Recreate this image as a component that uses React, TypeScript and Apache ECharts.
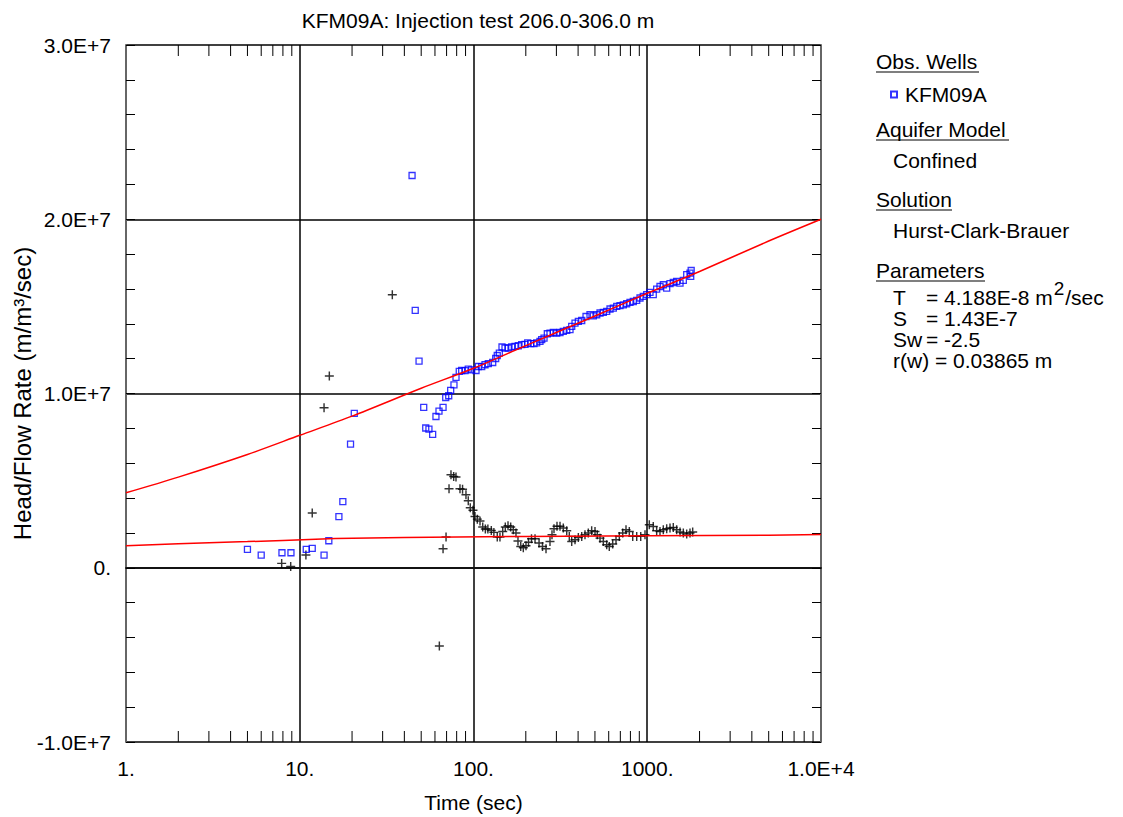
import React, { useEffect, useRef } from 'react';
import * as echarts from 'echarts';

const FONT = "'Liberation Sans', Arial, Helvetica, sans-serif";

// Tick labels
const xTickValues = [1, 10, 100, 1000, 10000];
const xTickLabels = ['1.', '10.', '100.', '1000.', '1.0E+4'];
const yTickValues = [-1e7, 0, 1e7, 2e7, 3e7];
const yTickLabels = ['-1.0E+7', '0.', '1.0E+7', '2.0E+7', '3.0E+7'];
const xDecades = [1, 10, 100, 1000];
const xMinorMult = [2, 3, 4, 5, 6, 7, 8, 9];

// Observed head/flow rate (blue squares)
const obsTime = [5.0, 6.0, 7.9, 8.9, 10.9, 11.8, 13.8, 14.7, 16.8, 17.7, 19.6, 20.6, 44.3, 46.2, 48.6, 51.7, 53.1, 55.4, 58.2, 60.8, 63.3, 66.8, 69.2, 72.0, 73.9, 77.2, 79.3, 82.8, 85.5, 89.4, 93.3, 97.6, 103.4, 106.6, 111.5, 116.5, 121.7, 129, 134.2, 137, 140.8, 145.9, 151.8, 158.6, 165.9, 173.3, 181.1, 189.4, 197.9, 205.1, 213.4, 222.9, 231.0, 241.3, 246.9, 254.6, 266, 275.6, 288, 301.2, 314.7, 328.7, 344, 359.3, 367.5, 383.9, 401.2, 419.6, 444.2, 468.3, 489.3, 511.9, 534.8, 558.7, 584.4, 610.5, 637.9, 667.3, 697, 728.3, 761.6, 795.6, 831.3, 869.6, 908.4, 949.1, 993, 1037, 1083, 1133, 1184, 1237, 1294, 1352, 1412, 1477, 1544, 1613, 1687, 1762, 1779, 1790];
const obsHead = [1.05e6, 0.73e6, 0.86e6, 0.86e6, 1.05e6, 1.11e6, 0.73e6, 1.55e6, 2.93e6, 3.79e6, 7.10e6, 8.86e6, 22.51e6, 14.77e6, 11.86e6, 9.20e6, 8.02e6, 7.96e6, 7.65e6, 8.68e6, 8.99e6, 9.20e6, 9.77e6, 9.87e6, 10.18e6, 10.50e6, 10.92e6, 11.27e6, 11.32e6, 11.31e6, 11.40e6, 11.36e6, 11.32e6, 11.55e6, 11.54e6, 11.65e6, 11.72e6, 11.78e6, 12.01e6, 12.18e6, 12.32e6, 12.67e6, 12.61e6, 12.61e6, 12.67e6, 12.70e6, 12.74e6, 12.80e6, 12.82e6, 12.90e6, 12.86e6, 12.86e6, 12.90e6, 12.99e6, 13.09e6, 13.18e6, 13.43e6, 13.47e6, 13.50e6, 13.47e6, 13.50e6, 13.56e6, 13.62e6, 13.66e6, 13.85e6, 14.04e6, 14.14e6, 14.19e6, 14.42e6, 14.52e6, 14.46e6, 14.52e6, 14.62e6, 14.65e6, 14.71e6, 14.85e6, 14.90e6, 15.00e6, 15.04e6, 15.09e6, 15.15e6, 15.23e6, 15.28e6, 15.34e6, 15.48e6, 15.57e6, 15.67e6, 15.80e6, 15.67e6, 15.99e6, 16.14e6, 16.24e6, 16.05e6, 16.30e6, 16.37e6, 16.43e6, 16.34e6, 16.49e6, 16.82e6, 16.91e6, 16.72e6, 17.06e6];

// Derivative (black crosses)
const derTime = [7.87, 8.87, 10.85, 11.8, 13.8, 14.8, 34.1, 63.6, 66.8, 69.5, 72.3, 74.2, 76.9, 79.3, 83.6, 86.5, 90.5, 93.3, 95.8, 99.3, 102, 105.2, 109, 113, 117, 121, 126.6, 131, 137, 142, 147.3, 152.4, 158, 163.7, 169.4, 175.6, 180.3, 187, 193.5, 200.5, 207.3, 215.7, 226, 238.4, 249.5, 261.4, 275.6, 283, 290.6, 302.4, 314.7, 328.7, 344, 355.9, 367.5, 383.9, 401.2, 419.6, 438.2, 457.9, 478.8, 500.4, 515.8, 534.8, 558.7, 584.4, 604.6, 632.6, 661, 690.6, 722.4, 754.6, 788.3, 824.9, 869.6, 917.1, 970.5, 1027.6, 1083, 1133, 1184, 1237, 1294, 1352, 1412, 1477, 1544, 1613, 1687, 1762, 1826];
const derValue = [0.25e6, 0.07e6, 0.73e6, 3.14e6, 9.18e6, 11.00e6, 15.67e6, -4.49e6, 1.09e6, 1.76e6, 4.53e6, 5.34e6, 5.24e6, 5.21e6, 4.53e6, 4.51e6, 4.19e6, 3.85e6, 3.44e6, 3.30e6, 2.94e6, 2.79e6, 2.68e6, 2.34e6, 2.22e6, 2.22e6, 2.14e6, 2.03e6, 1.76e6, 1.76e6, 2.08e6, 2.34e6, 2.41e6, 2.34e6, 2.18e6, 1.99e6, 1.53e6, 1.22e6, 1.15e6, 1.26e6, 1.46e6, 1.66e6, 1.66e6, 1.42e6, 1.22e6, 1.09e6, 1.51e6, 1.89e6, 2.24e6, 2.38e6, 2.38e6, 2.28e6, 2.12e6, 1.80e6, 1.51e6, 1.61e6, 1.74e6, 1.80e6, 1.89e6, 1.99e6, 2.12e6, 2.08e6, 1.89e6, 1.70e6, 1.51e6, 1.32e6, 1.22e6, 1.36e6, 1.61e6, 1.80e6, 1.99e6, 2.18e6, 2.08e6, 1.80e6, 1.80e6, 1.80e6, 1.89e6, 2.47e6, 2.37e6, 2.12e6, 2.08e6, 2.18e6, 2.24e6, 2.28e6, 2.31e6, 2.18e6, 2.05e6, 1.99e6, 1.93e6, 1.99e6, 2.05e6];

// Fitted type curve (upper red line)
const fitTime = [1, 2, 5, 10, 20, 50, 100, 200, 500, 1000, 2000, 5000, 10000];
const fitHead = [4.3e6, 5.2e6, 6.5e6, 7.6e6, 8.7e6, 10.3e6, 11.45e6, 12.75e6, 14.45e6, 15.75e6, 17.0e6, 18.75e6, 20.0e6];

// Fitted derivative (lower red line)
const fitDerTime = [1, 2, 5, 8, 16, 40, 200, 1000, 5000, 10000];
const fitDerValue = [1.26e6, 1.38e6, 1.5e6, 1.57e6, 1.68e6, 1.74e6, 1.8e6, 1.84e6, 1.87e6, 1.91e6];

const xMinorTicks: number[] = [];
xDecades.forEach((d) => xMinorMult.forEach((m) => xMinorTicks.push(d * m)));

const zip = (a: number[], b: number[]) => a.map((v, i) => [v, b[i]]);

const xLabel = (v: number) => {
  const idx = xTickValues.findIndex((t) => Math.abs(Math.log10(t) - Math.log10(v)) < 1e-6);
  return idx >= 0 ? xTickLabels[idx] : '';
};
const yLabel = (v: number) => {
  const idx = yTickValues.findIndex((t) => Math.abs(t - v) < 1);
  return idx >= 0 ? yTickLabels[idx] : '';
};

const FS = 21;
const txt = (text: string, x: number, y: number, extra: any = {}) => ({
  type: 'text',
  x,
  y,
  style: {
    text,
    fill: '#000',
    font: `${FS}px ${FONT}`,
    textVerticalAlign: 'middle',
    verticalAlign: 'middle',
    ...extra,
  },
});
const uline = (x1: number, x2: number, y: number) => ({
  type: 'line',
  shape: { x1, y1: y, x2, y2: y },
  style: { stroke: '#000', lineWidth: 1.2 },
});

const measure = (text: string, font: string) => {
  const ctx = document.createElement('canvas').getContext('2d');
  if (!ctx) return text.length * 10;
  ctx.font = font;
  return ctx.measureText(text).width;
};

const plusSymbol = 'path://M4.2,0h1.6v10h-1.6z M0,4.2h10v1.6h-10z';

export default function App() {
  const ref = useRef<HTMLDivElement>(null);
  useEffect(() => {
    const chart = echarts.init(ref.current!, null, { renderer: 'svg' });
    const axisFont = { fontSize: FS, fontFamily: FONT, color: '#000' };
    const tMain = '= 4.188E-8 m';
    const tX = 926;
    const supX = tX + measure(tMain, `${FS}px ${FONT}`) + 1;
    const supW = measure('2', `19px ${FONT}`);
    chart.setOption({
      animation: false,
      backgroundColor: '#fff',
      grid: { left: 126, top: 45, width: 695, height: 697, outerBoundsMode: 'none', containLabel: false },
      legend: {
        data: [{ name: 'KFM09A', icon: 'rect' }],
        left: 885,
        top: 79,
        itemWidth: 6,
        itemHeight: 6,
        itemGap: 4,
        textStyle: { ...axisFont, padding: [0, 0, 0, 3] },
        selectedMode: false,
      },
      xAxis: [
        {
          type: 'log',
          logBase: 10,
          min: 1,
          max: 10000,
          position: 'bottom',
          axisLine: { show: true, lineStyle: { color: '#111', width: 1.5 } },
          axisTick: { show: false },
          minorTick: { show: false },
          axisLabel: { formatter: xLabel, margin: 16, ...axisFont },
          splitLine: { show: true, lineStyle: { color: '#000', width: 1.5 } },
          name: 'Time (sec)',
          nameLocation: 'middle',
          nameGap: 50,
          nameMoveOverlap: false,
          nameTextStyle: { ...axisFont },
        },
        {
          type: 'log',
          logBase: 10,
          min: 1,
          max: 10000,
          position: 'top',
          axisLine: { show: true, lineStyle: { color: '#111', width: 1.5 } },
          axisTick: { show: false },
          axisLabel: { show: false },
          splitLine: { show: false },
        },
      ],
      yAxis: [
        {
          type: 'value',
          min: -1e7,
          max: 3e7,
          interval: 1e7,
          position: 'left',
          axisLine: { show: true, lineStyle: { color: '#666', width: 2 } },
          axisTick: { show: true, inside: true, length: 9, lineStyle: { color: '#000' } },
          minorTick: { show: true, splitNumber: 5, length: 9, lineStyle: { color: '#000', width: 1 } },
          splitLine: { show: true, lineStyle: { color: '#000', width: 1.5 } },
          axisLabel: { formatter: yLabel, margin: 15, ...axisFont },
          name: 'Head/Flow Rate (m/m³/sec)',
          nameLocation: 'middle',
          nameRotate: 90,
          nameGap: 92,
          nameMoveOverlap: false,
          nameTextStyle: { ...axisFont, fontSize: 24 },
        },
        {
          type: 'value',
          min: -1e7,
          max: 3e7,
          interval: 1e7,
          position: 'right',
          axisLine: { show: true, lineStyle: { color: '#666', width: 2 } },
          axisTick: { show: true, inside: true, length: 9, lineStyle: { color: '#000' } },
          minorTick: { show: true, splitNumber: 5, length: 9, lineStyle: { color: '#000', width: 1 } },
          splitLine: { show: false },
          axisLabel: { show: false },
        },
      ],
      graphic: [
        txt('KFM09A: Injection test 206.0-306.0 m', 478, 20, { textAlign: 'center', align: 'center' }),
        txt('Obs. Wells', 876, 61),
        uline(876, 979, 72),
        txt('Aquifer Model', 876, 129),
        uline(876, 1009, 140),
        txt('Confined', 893, 160),
        txt('Solution', 876, 199),
        uline(876, 952, 210),
        txt('Hurst-Clark-Brauer', 893, 230),
        txt('Parameters', 876, 270),
        uline(876, 985, 281),
        txt('T', 893, 297),
        txt(tMain, tX, 297),
        txt('2', supX, 288, { font: `19px ${FONT}` }),
        txt('/sec', supX + supW + 1, 297),
        txt('S', 893, 318),
        txt('= 1.43E-7', tX, 318),
        txt('Sw', 893, 339),
        txt('= -2.5', tX, 339),
        txt('r(w) = 0.03865 m', 893, 360),
      ],
      series: [
        {
          name: 'KFM09A',
          type: 'scatter',
          xAxisIndex: 0,
          yAxisIndex: 0,
          data: zip(obsTime, obsHead),
          symbol: 'rect',
          symbolSize: 6,
          itemStyle: { color: 'rgba(0,0,0,0)', borderColor: '#0000ff', borderWidth: 1.3 },
          z: 4,
        },
        {
          name: 'Derivative',
          type: 'scatter',
          xAxisIndex: 0,
          yAxisIndex: 0,
          data: zip(derTime, derValue),
          symbol: plusSymbol,
          symbolSize: 9,
          itemStyle: { color: '#000' },
          z: 3,
        },
        {
          name: 'Fit',
          type: 'line',
          xAxisIndex: 0,
          yAxisIndex: 0,
          data: zip(fitTime, fitHead),
          showSymbol: false,
          symbol: 'none',
          smooth: 0.3,
          lineStyle: { color: '#ff0000', width: 1.5 },
          z: 5,
        },
        {
          name: 'Fit derivative',
          type: 'line',
          xAxisIndex: 0,
          yAxisIndex: 0,
          data: zip(fitDerTime, fitDerValue),
          showSymbol: false,
          symbol: 'none',
          smooth: false,
          lineStyle: { color: '#ff0000', width: 1.5 },
          z: 5,
        },
        {
          name: 'minorTicks',
          type: 'custom',
          xAxisIndex: 0,
          yAxisIndex: 0,
          silent: true,
          data: xMinorTicks.map((v) => [v, 0]),
          renderItem: (params: any, api: any) => {
            const x = api.coord([api.value(0), 0])[0];
            const cs = params.coordSys;
            const top = cs.y;
            const bottom = cs.y + cs.height;
            return {
              type: 'group',
              children: [
                { type: 'line', shape: { x1: x, y1: bottom, x2: x, y2: bottom - 11 }, style: { stroke: '#000', lineWidth: 1 } },
                { type: 'line', shape: { x1: x, y1: top, x2: x, y2: top + 11 }, style: { stroke: '#000', lineWidth: 1 } },
              ],
            };
          },
          z: 2,
        },
      ],
    });
    return () => chart.dispose();
  }, []);
  return (
    <div
      ref={ref}
      style={{ position: 'fixed', left: 0, top: 0, width: 1123, height: 817, background: '#fff' }}
    />
  );
}
